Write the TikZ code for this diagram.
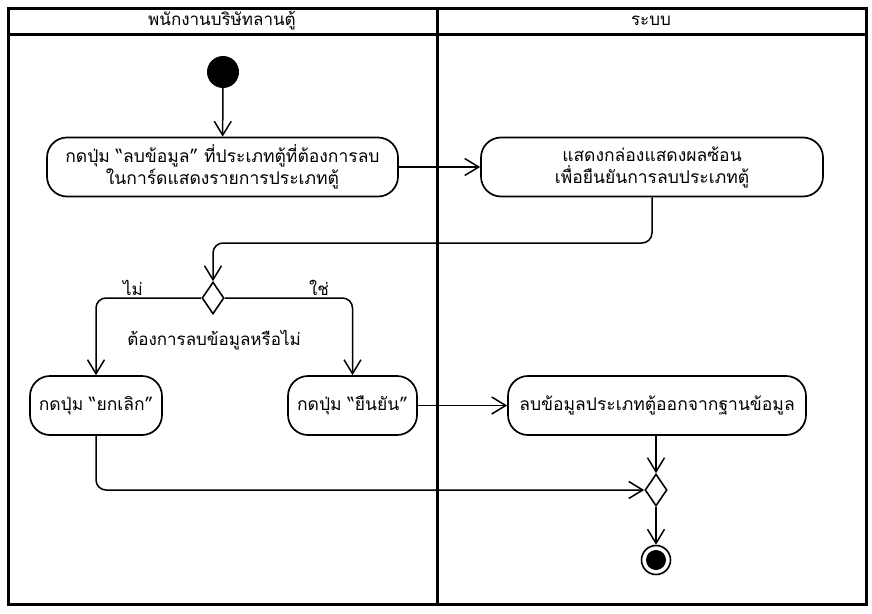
\documentclass[tikz,border=0pt]{standalone}
\usepackage{fontspec}
\newfontfamily\thaifont[Script=Thai]{Loma}
\usetikzlibrary{arrows.meta,shapes.geometric}
\tikzset{
  lane/.style={draw, line width=3pt},
  action/.style={draw, line width=1.7pt, rounded corners=20pt, align=center,
    font=\thaifont\fontsize{17.5}{22}\selectfont, inner sep=0pt},
  decision/.style={draw, diamond, line width=1.6pt, minimum width=22pt,
    minimum height=32pt, inner sep=0pt},
  arr/.style={line width=1.5pt, -{Straight Barb[length=14pt,width=17pt,line width=1.5pt]}},
  lbl/.style={font=\thaifont\fontsize{17}{20}\selectfont, inner sep=0pt},
}
\begin{document}
\begin{tikzpicture}[x=1pt,y=-1pt]
\useasboundingbox (0,0) rectangle (872,613);
% swimlane frame
\draw[lane] (8,8) rectangle (866,604);
\draw[lane] (8,34) -- (866,34);
\draw[lane] (437,8) -- (437,604);
\node[lbl] (h1) at (222,21) {พนักงานบริษัทลานตู้};
\node[lbl] (h2) at (651,21) {ระบบ};

% start
\node[circle, fill, minimum size=32pt, inner sep=0pt] (init) at (223,72) {};

% actions
\node[action, minimum width=351pt, minimum height=59pt] (a1) at (222.5,167)
  {กดปุ่ม “ลบข้อมูล” ที่ประเภทตู้ที่ต้องการลบ\\ในการ์ดแสดงรายการประเภทตู้};
\node[action, minimum width=342pt, minimum height=59pt] (a2) at (652,167)
  {แสดงกล่องแสดงผลซ้อน\\เพื่อยืนยันการลบประเภทตู้};
\node[decision] (d1) at (213,298) {};
\node[lbl] (ctext) at (214,340) {ต้องการลบข้อมูลหรือไม่};
\node[action, minimum width=132pt, minimum height=59pt] (a3) at (96,405.5)
  {กดปุ่ม “ยกเลิก”};
\node[action, minimum width=129pt, minimum height=59pt] (a4) at (352.5,405.5)
  {กดปุ่ม “ยืนยัน”};
\node[action, minimum width=298pt, minimum height=59pt] (a5) at (657,405.5)
  {ลบข้อมูลประเภทตู้ออกจากฐานข้อมูล};
\node[decision] (d2) at (656,490) {};

% end
\node[circle, draw, line width=1.6pt, minimum size=29pt, inner sep=0pt] (fin) at (656,560) {};
\node[circle, fill, minimum size=20pt, inner sep=0pt] (finc) at (fin) {};

\coordinate (j1) at (213,243);

% guard labels
\node[lbl] (no) at (133,288) {ไม่};
\node[lbl] (yes) at (319,288) {ใช่};

% flows
\draw[arr] (init) -- (a1);
\draw[arr] (a1.east) -- (a2.west);
\draw[arr, rounded corners=10pt] (a2.south) |- (j1) -- (d1.north);
\draw[arr, rounded corners=10pt] (d1.west) -| (a3.north);
\draw[arr, rounded corners=10pt] (d1.east) -| (a4.north);
\draw[arr] (a4.east) -- (a5.west);
\draw[arr] (a5.south -| d2.north) -- (d2.north);
\draw[arr, rounded corners=10pt] (a3.south) |- (d2.west);
\draw[arr] (d2.south) -- (fin.north);
\end{tikzpicture}
\end{document}
